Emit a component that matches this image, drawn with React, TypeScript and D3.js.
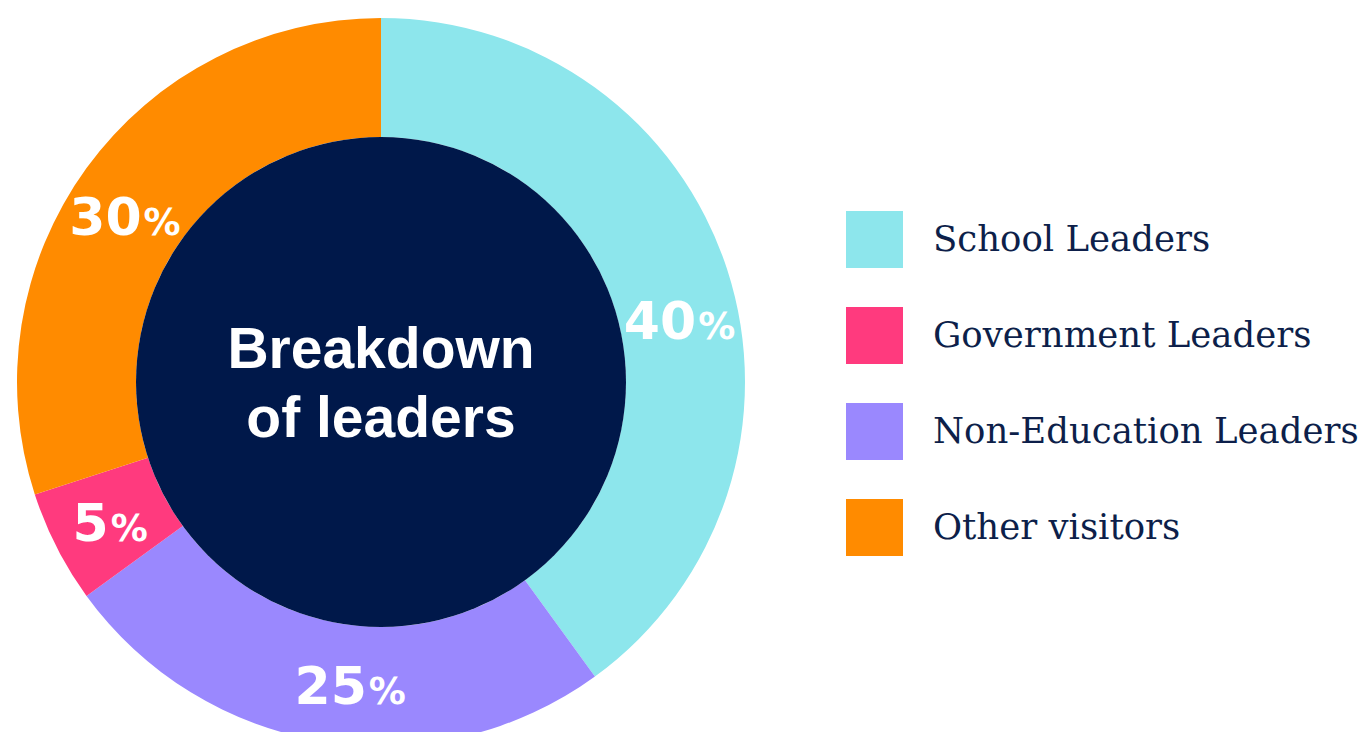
import React from "react";
import * as d3 from "d3";

const categories = ["School Leaders", "Non-Education Leaders", "Government Leaders", "Other visitors"];
const values = [40, 25, 5, 30];
const legendOrder = ["School Leaders", "Government Leaders", "Non-Education Leaders", "Other visitors"];
const colors: Record<string, string> = {
  "School Leaders": "#8DE6EC",
  "Government Leaders": "#FF3A7E",
  "Non-Education Leaders": "#9A88FE",
  "Other visitors": "#FF8B00",
};
const centerLines = ["Breakdown", "of leaders"];
// small angular nudges (degrees) for label placement within each slice
const labelNudge = [6.2, -3.2, -0.4, -3.1];

const W = 1371;
const H = 732;
const cx = 381;
const cy = 382;
const outerR = 364;
const innerR = 245;
const navy = "#00184A";

export default function App() {
  const pie = d3.pie<number>().sort(null).value((d) => d);
  const arcs = pie(values);
  const arc = d3.arc<d3.PieArcDatum<number>>().innerRadius(innerR).outerRadius(outerR);
  const labelR = 305;

  const legendY = d3.scaleBand<string>().domain(legendOrder).range([211, 211 + 96 * 4]).paddingInner(0);

  return (
    <svg width={W} height={H} style={{ position: "absolute", left: 0, top: 0, display: "block" }}>
      <rect width={W} height={H} fill="#fff" />
      <g transform={`translate(${cx},${cy})`}>
        {arcs.map((a, i) => (
          <path key={i} d={arc(a) || ""} fill={colors[categories[i]]} />
        ))}
        <circle r={innerR} fill={navy} />
        {arcs.map((a, i) => {
          const mid = (a.startAngle + a.endAngle) / 2 + (labelNudge[i] * Math.PI) / 180;
          const x = labelR * Math.sin(mid);
          const y = -labelR * Math.cos(mid);
          return (
            <text
              key={"l" + i}
              x={x}
              y={y + 19}
              textAnchor="middle"
              fill="#fff"
              fontFamily="'DejaVu Sans', sans-serif"
              fontWeight={700}
              fontSize={52}
            >
              {values[i]}
              <tspan fontSize={37} fontWeight={700} dx={2}>%</tspan>
            </text>
          );
        })}
        {centerLines.map((t, i) => (
          <text
            key={"c" + i}
            x={0}
            y={-14 + i * 69}
            textAnchor="middle"
            fill="#fff"
            fontFamily="'Liberation Sans', Arial, sans-serif"
            fontWeight={700}
            fontSize={57}
          >
            {t}
          </text>
        ))}
      </g>
      {legendOrder.map((name) => {
        const y = legendY(name)!;
        return (
          <g key={name}>
            <rect x={846} y={y} width={57} height={57} fill={colors[name]} />
            <text
              x={933}
              y={y + 40}
              fill="#0D1F4A"
              fontFamily="'DejaVu Serif', serif"
              fontSize={35.5}
            >
              {name}
            </text>
          </g>
        );
      })}
    </svg>
  );
}
